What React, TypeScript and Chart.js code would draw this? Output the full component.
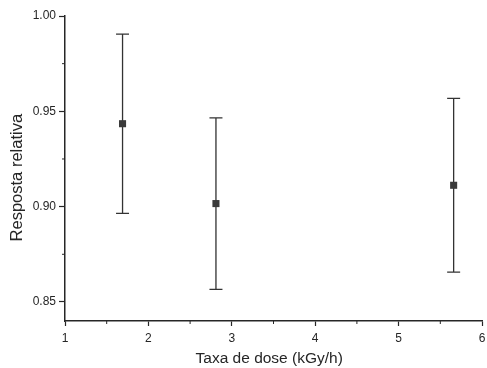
import React, { useEffect, useRef } from "react";
import { Chart, registerables } from "chart.js";

Chart.register(...registerables);

const doseRates = [1.69, 2.81, 5.66];
const responses = [0.9435, 0.9016, 0.9112];
const errors = [0.047, 0.045, 0.0456];

const xTicks = [1, 2, 3, 4, 5, 6];
const xMinorTicks = [1.5, 2.5, 3.5, 4.5, 5.5];
const yTicks = [0.85, 0.9, 0.95, 1.0];
const yMinorTicks = [0.875, 0.925, 0.975];

const xTitle = "Taxa de dose (kGy/h)";
const yTitle = "Resposta relativa";

const INK = "#262626";

const errorBarPlugin = {
  id: "errorBars",
  beforeDatasetsDraw(chart: any) {
    const { ctx, scales } = chart;
    const xs = scales.x;
    const ys = scales.y;
    ctx.save();
    ctx.strokeStyle = "#333";
    ctx.lineWidth = 1.3;
    doseRates.forEach((xv, i) => {
      const px = xs.getPixelForValue(xv);
      const top = ys.getPixelForValue(responses[i] + errors[i]);
      const bot = ys.getPixelForValue(responses[i] - errors[i]);
      ctx.beginPath();
      ctx.moveTo(px, top);
      ctx.lineTo(px, bot);
      ctx.moveTo(px - 6.5, top);
      ctx.lineTo(px + 6.5, top);
      ctx.moveTo(px - 6.5, bot);
      ctx.lineTo(px + 6.5, bot);
      ctx.stroke();
    });
    ctx.restore();
  },
  afterDraw(chart: any) {
    const { ctx, scales, chartArea } = chart;
    ctx.save();
    ctx.strokeStyle = INK;
    ctx.lineWidth = 1;
    xMinorTicks.forEach((v) => {
      const px = scales.x.getPixelForValue(v);
      ctx.beginPath();
      ctx.moveTo(px, chartArea.bottom);
      ctx.lineTo(px, chartArea.bottom + 3);
      ctx.stroke();
    });
    yMinorTicks.forEach((v) => {
      const py = scales.y.getPixelForValue(v);
      ctx.beginPath();
      ctx.moveTo(chartArea.left, py);
      ctx.lineTo(chartArea.left - 3, py);
      ctx.stroke();
    });
    ctx.restore();
  },
};

export default function App() {
  const canvasRef = useRef<HTMLCanvasElement | null>(null);

  useEffect(() => {
    document.body.style.margin = "0";
    const canvas = canvasRef.current;
    if (!canvas) return;
    const chart = new Chart(canvas, {
      type: "scatter",
      data: {
        datasets: [
          {
            data: doseRates.map((x, i) => ({ x, y: responses[i] })),
            pointStyle: "rect",
            pointRadius: 5,
            pointBackgroundColor: "#3a3a3a",
            pointBorderColor: "#3a3a3a",
            pointBorderWidth: 0,
            showLine: false,
          },
        ],
      },
      options: {
        animation: false,
        responsive: true,
        maintainAspectRatio: false,
        layout: { padding: { top: 16, right: 0, left: 0, bottom: 0 } },
        plugins: { legend: { display: false }, tooltip: { enabled: false } },
        scales: {
          x: {
            type: "linear",
            min: 1,
            max: 6,
            afterBuildTicks: (scale: any) => {
              scale.ticks = xTicks.map((v) => ({ value: v }));
            },
            afterFit: (scale: any) => {
              scale.height = 47;
              scale.paddingLeft = 0;
              scale.paddingRight = 3;
            },
            grid: { drawOnChartArea: false, tickLength: 5, tickColor: INK, tickWidth: 1.2 },
            border: { color: INK, width: 1.5 },
            ticks: {
              color: INK,
              padding: 5,
              maxRotation: 0,
              font: { family: "Liberation Sans, Arial, sans-serif", size: 12 },
              callback: (v: any) => String(v),
            },
            title: {
              display: true,
              text: xTitle + "  ",
              color: INK,
              padding: { top: 2, bottom: 0 },
              font: { family: "Liberation Sans, Arial, sans-serif", size: 15.5 },
            },
          },
          y: {
            type: "linear",
            min: 0.84,
            max: 1.0,
            afterBuildTicks: (scale: any) => {
              scale.ticks = yTicks.map((v) => ({ value: v }));
            },
            afterFit: (scale: any) => {
              scale.width = 65;
            },
            grid: { drawOnChartArea: false, tickLength: 6, tickColor: INK, tickWidth: 1.2 },
            border: { color: INK, width: 1.5 },
            ticks: {
              color: INK,
              padding: 3,
              font: { family: "Liberation Sans, Arial, sans-serif", size: 12 },
              callback: (v: any) => Number(v).toFixed(2),
            },
            title: {
              display: true,
              text: yTitle + "    ",
              color: INK,
              padding: { top: 8, bottom: 0 },
              font: { family: "Liberation Sans, Arial, sans-serif", size: 16.5 },
            },
          },
        },
      },
      plugins: [errorBarPlugin],
    });
    return () => chart.destroy();
  }, []);

  return (
    <div style={{ width: 487, height: 368, position: "relative", background: "#fff" }}>
      <canvas ref={canvasRef} />
    </div>
  );
}
